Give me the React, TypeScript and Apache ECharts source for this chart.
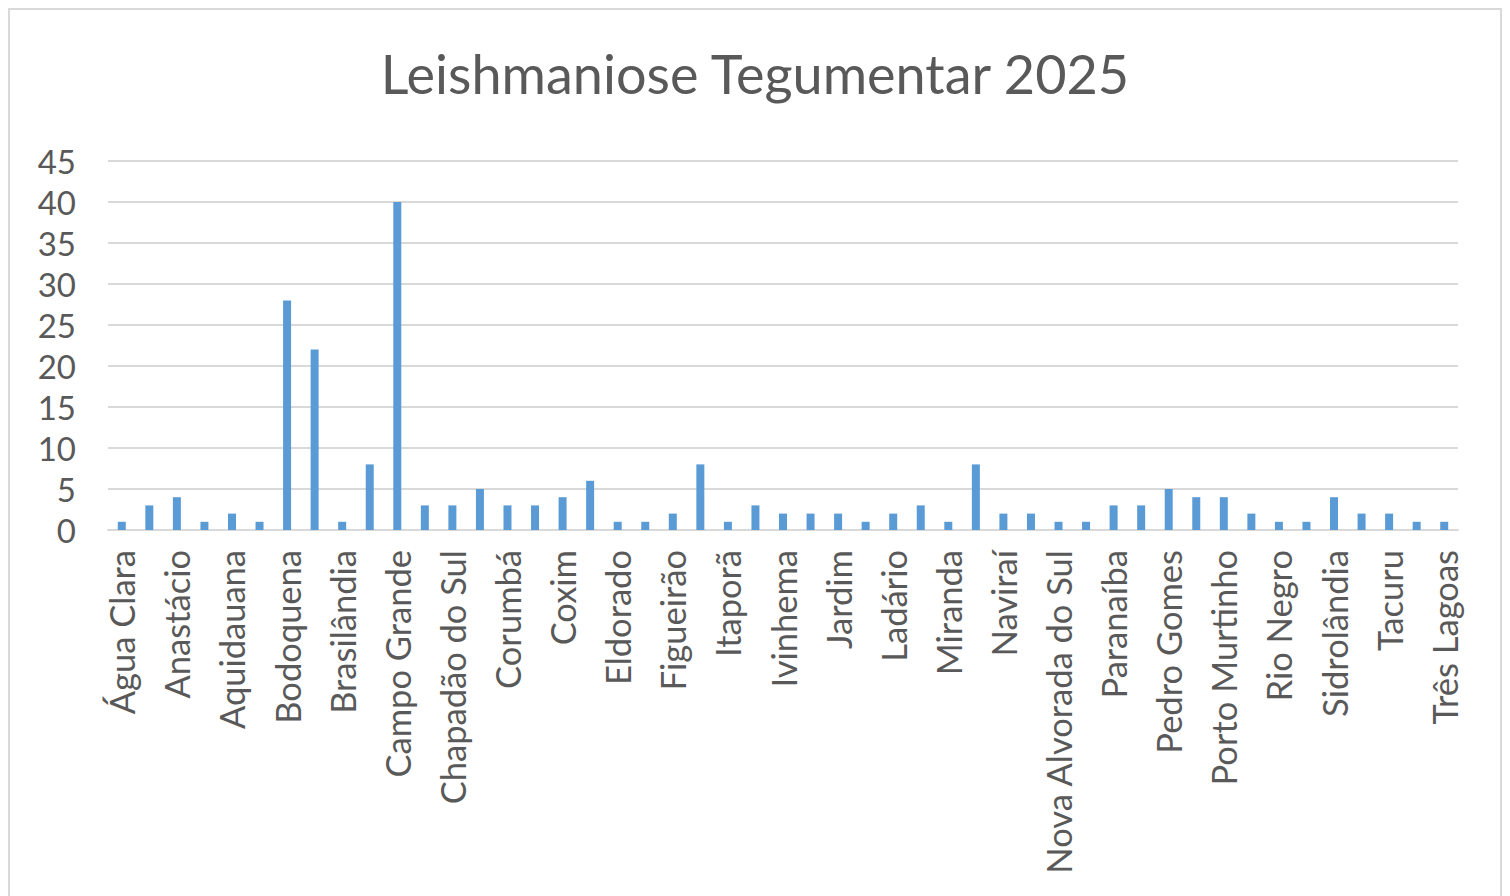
import React, { useEffect, useRef } from "react";
import * as echarts from "echarts";

const TITLE = "Leishmaniose Tegumentar 2025";

const municipios: string[] = [
  "Água Clara", "Amambai", "Anastácio", "Antônio João", "Aquidauana", "Bela Vista",
  "Bodoquena", "Bonito", "Brasilândia", "Camapuã", "Campo Grande", "Cassilândia",
  "Chapadão do Sul", "Corguinho", "Corumbá", "Costa Rica", "Coxim", "Dourados",
  "Eldorado", "Fátima do Sul", "Figueirão", "Guia Lopes da Laguna", "Itaporã", "Itaquiraí",
  "Ivinhema", "Jaraguari", "Jardim", "Juti", "Ladário", "Maracaju",
  "Miranda", "Mundo Novo", "Naviraí", "Nioaque", "Nova Alvorada do Sul", "Nova Andradina",
  "Paranaíba", "Paranhos", "Pedro Gomes", "Ponta Porã", "Porto Murtinho", "Rio Brilhante",
  "Rio Negro", "Rochedo", "Sidrolândia", "Sonora", "Tacuru", "Terenos", "Três Lagoas",
];

const casos: number[] = [
  1, 3, 4, 1, 2, 1,
  28, 22, 1, 8, 40, 3,
  3, 5, 3, 3, 4, 6,
  1, 1, 2, 8, 1, 3,
  2, 2, 2, 1, 2, 3,
  1, 8, 2, 2, 1, 1,
  3, 3, 5, 4, 4, 2,
  1, 1, 4, 2, 2, 1, 1,
];

const yMin = 0;
const yMax = 45;
const yStep = 5;

const FONT = "Lato, 'Open Sans', sans-serif";
const TEXT = "#595959";
const GRID = "#d9d9d9";
const BAR = "#5b9bd5";

export default function App() {
  const ref = useRef<HTMLDivElement>(null);
  useEffect(() => {
    if (!ref.current) return;
    const chart = echarts.init(ref.current, undefined, { renderer: "svg" });
    chart.setOption({
      animation: false,
      backgroundColor: "#ffffff",
      title: {
        text: TITLE,
        left: "center",
        top: 31,
        textStyle: { fontFamily: FONT, fontSize: 54, fontWeight: "normal", color: TEXT },
      },
      grid: { left: 98, top: 151, width: 1350, height: 369, containLabel: false },
      xAxis: {
        type: "category",
        data: municipios,
        axisLine: { show: true, lineStyle: { color: GRID, width: 2 } },
        axisTick: { show: false },
        axisLabel: {
          interval: 1,
          rotate: 90,
          margin: 20,
          fontFamily: FONT,
          fontSize: 34.5,
          color: TEXT,
        },
      },
      yAxis: {
        type: "value",
        min: yMin,
        max: yMax,
        interval: yStep,
        axisLine: { show: false },
        axisTick: { show: false },
        splitLine: { lineStyle: { color: GRID, width: 2 } },
        axisLabel: { margin: 32, fontFamily: FONT, fontSize: 33, color: TEXT },
      },
      series: [
        {
          type: "bar",
          data: casos,
          barWidth: 8,
          itemStyle: { color: BAR },
        },
      ],
    });
    return () => chart.dispose();
  }, []);
  return (
    <div style={{ width: 1494, height: 900, border: "2px solid #d9d9d9", boxSizing: "border-box", background: "#fff" }}>
      <div ref={ref} style={{ width: 1490, height: 896 }} />
    </div>
  );
}
